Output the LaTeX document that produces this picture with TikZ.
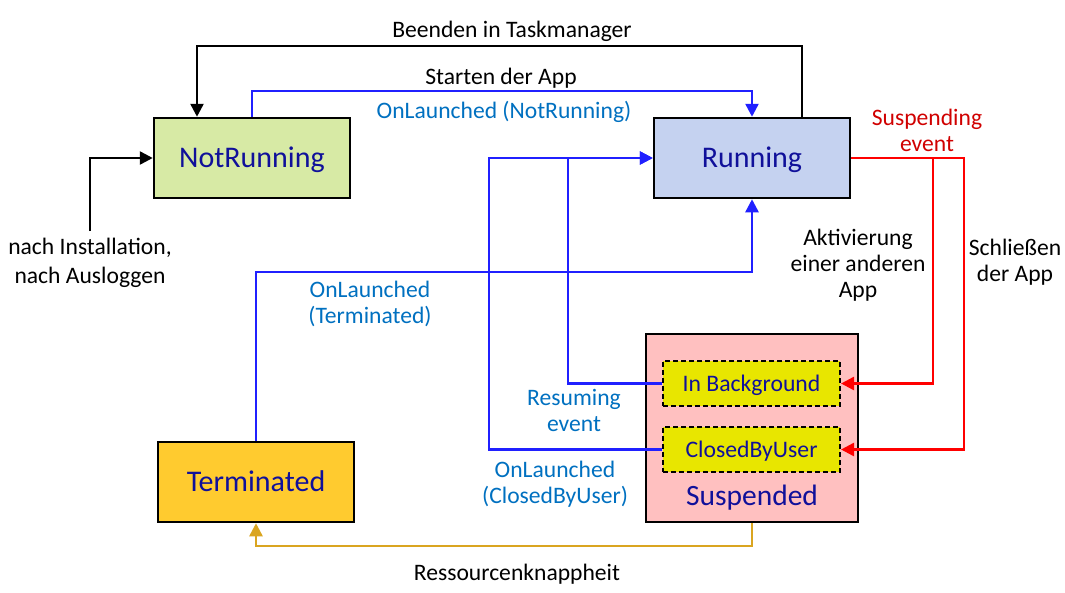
\documentclass[tikz,border=0pt]{standalone}
\usepackage{fontspec}
\setmainfont{Carlito}
\usetikzlibrary{arrows.meta}
\definecolor{grn}{HTML}{D7EAA5}
\definecolor{runc}{HTML}{C5D2F0}
\definecolor{termc}{HTML}{FFCB2F}
\definecolor{suspc}{HTML}{FFC0C0}
\definecolor{yel}{HTML}{E8E600}
\definecolor{navy}{HTML}{10109A}
\definecolor{lblue}{HTML}{0070C0}
\definecolor{lineblue}{HTML}{2020FF}
\definecolor{redtxt}{HTML}{D00000}
\definecolor{gold}{HTML}{DAA520}
\tikzset{
  state/.style={draw=black, line width=2.5pt, minimum width=196pt, minimum height=80pt, inner sep=0pt, text=navy, font=\fontsize{30}{36}\selectfont, text height=19pt, text depth=0pt},
  sub/.style={draw=black, dashed, dash pattern=on 5pt off 3pt, line width=2pt, fill=yel, minimum width=177pt, minimum height=45pt, inner sep=0pt, text=navy, font=\fontsize{23.7}{28}\selectfont, text height=15pt, text depth=0pt},
  lbl/.style={align=center, inner sep=0pt, font=\fontsize{23.6}{26}\selectfont},
  conn/.style={line width=2.5pt},
  tip/.style={-{Triangle[length=13pt,width=13pt]}},
}
\begin{document}
\begin{tikzpicture}[x=1pt,y=-1pt]
\useasboundingbox (0,0) rectangle (1065,592);
% boxes
\node[state, fill=grn] (nr) at (252,158) {NotRunning};
\node[state, fill=runc] (run) at (752,158) {Running};
\node[state, fill=termc] (term) at (256,482) {Terminated};
\node[draw=black, line width=2.5pt, fill=suspc, minimum width=212pt, minimum height=188pt, inner sep=0pt] (susp) at (752,428) {};
\node[sub] (bg) at (751.5,383.5) {In Background};
\node[sub] (cbu) at (751.5,449.5) {ClosedByUser};
\node[inner sep=0pt, text=navy, font=\fontsize{29.5}{34}\selectfont, text height=18.5pt, text depth=0pt] (susptxt) at (752,496) {Suspended};
% coordinates
\coordinate (t1) at (802,46);
\coordinate (t2) at (197,46);
\coordinate (b1) at (500,91);
\coordinate (inst) at (90,231);
\coordinate (c1) at (500,272);
\coordinate (r1) at (568,158);
\coordinate (r2) at (489,158);
\coordinate (r3) at (964,158);
\coordinate (r4) at (933,158);
\coordinate (g1) at (500,546);
% connectors
\draw[conn, tip, black] (run.north -| t1) -- (t1) -- (t2) -- (nr.north -| t2);
\draw[conn, tip, lineblue] (nr.north) |- (b1) -| (run.north);
\draw[conn, tip, black] (inst) |- (nr.west);
\draw[conn, tip, lineblue] (term.north) |- (c1) -| (run.south);
\draw[conn, tip, lineblue] (bg.west) -| (r1) -- (run.west);
\draw[conn, tip, lineblue] (cbu.west) -| (r2) -- (run.west);
\draw[conn, tip, red] (run.east) -- (r3) |- (cbu.east);
\draw[conn, tip, red] (r4) |- (bg.east);
\draw[conn, tip, gold] (susp.south) |- (g1) -| (term.south);
% labels
\node[lbl] (l1) at (512,31) {Beenden in Taskmanager};
\node[lbl] (l2) at (501,78) {Starten der App};
\node[lbl, text=lblue] (l3) at (504,112) {OnLaunched (NotRunning)};
\node[lbl, font=\fontsize{23.6}{28.5}\selectfont] (l4) at (90,263) {nach Installation,\\nach Ausloggen};
\node[lbl, text=lblue] (l5) at (370,304) {OnLaunched\\(Terminated)};
\node[lbl, text=lblue] (l6) at (574,410) {Resuming\\event};
\node[lbl, text=lblue] (l7) at (555,484) {OnLaunched\\(ClosedByUser)};
\node[lbl, text=redtxt] (l8) at (927,130) {Suspending\\event};
\node[lbl] (l9) at (858,265) {Aktivierung\\einer anderen\\App};
\node[lbl] (l10) at (1015,262) {Schließen\\der App};
\node[lbl] (l11) at (517,574) {Ressourcenknappheit};
\end{tikzpicture}
\end{document}
